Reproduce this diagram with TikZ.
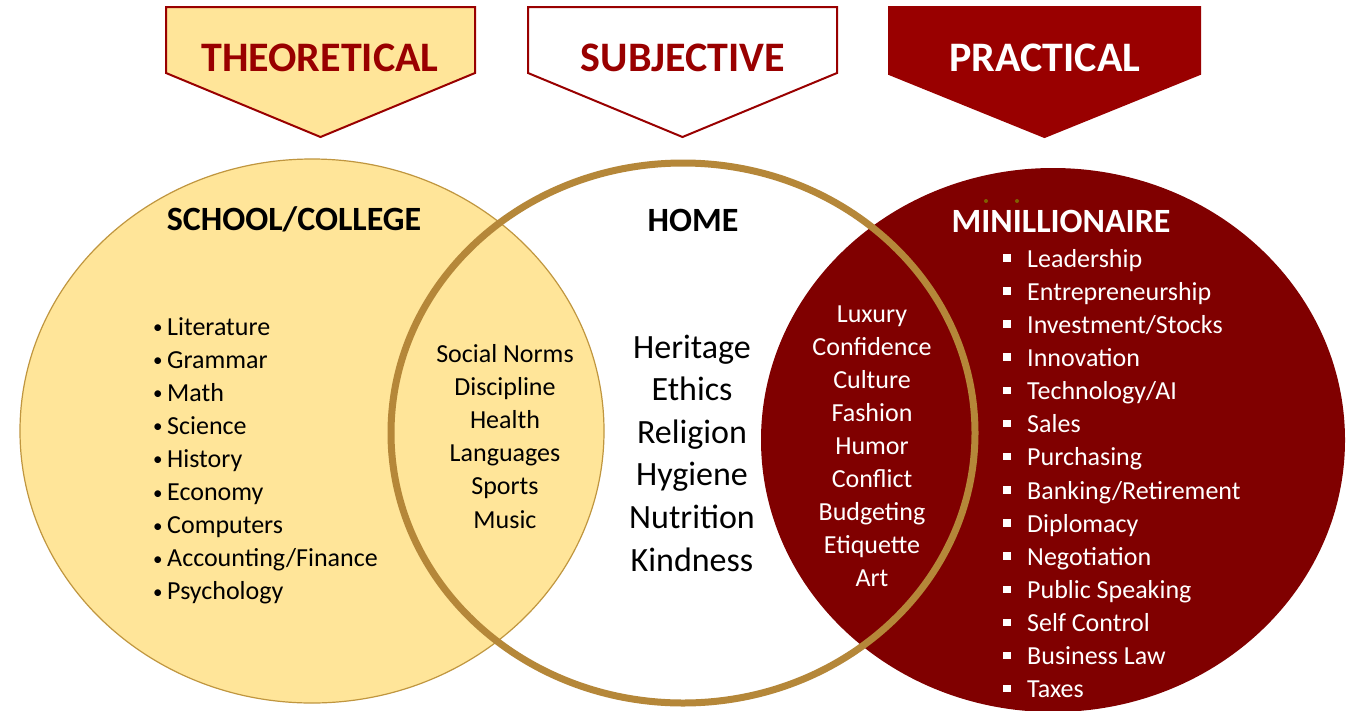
\documentclass[tikz,border=0pt]{standalone}
\usepackage{fontspec}
\setmainfont{Carlito}
\definecolor{lightyel}{HTML}{FFE599}
\definecolor{yelborder}{HTML}{C0963F}
\definecolor{maroonfill}{HTML}{800000}
\definecolor{bannerred}{HTML}{990000}
\definecolor{ringgold}{HTML}{B58739}
\definecolor{dotolive}{HTML}{7F6000}
\newcommand{\smallbul}{\makebox[16pt][l]{\hspace{2pt}{\fontsize{19}{20}\selectfont\raisebox{1.5pt}{•}}}}
\tikzset{
  bannershape/.style={line width=2pt, draw=bannerred, line join=miter},
  bannertext/.style={anchor=base, inner sep=0pt, font=\fontsize{42}{50}\selectfont\bfseries},
  titletext/.style={anchor=base, inner sep=0pt, font=\fontsize{34}{40}\selectfont\bfseries},
  listitem/.style={anchor=base west, inner sep=0pt, font=\fontsize{26}{30}\selectfont},
  centeritem/.style={anchor=base, inner sep=0pt, font=\fontsize{26}{30}\selectfont},
  homeitem/.style={anchor=base, inner sep=0pt, font=\fontsize{34}{40}\selectfont},
}
\begin{document}
\begin{tikzpicture}[x=1pt,y=-1pt]
\useasboundingbox (0,0) rectangle (1357,710);
\fill[white] (0,0) rectangle (1357,710);
\clip (0,0) rectangle (1357,710);

% banners
\path[bannershape, fill=lightyel] (166,7) -- (475,7) -- (475,73) -- (320.5,137) -- (166,73) -- cycle;
\path[bannershape, fill=white] (528,7) -- (837,7) -- (837,73) -- (682.5,137) -- (528,73) -- cycle;
\path[bannershape, fill=bannerred] (889,7) -- (1200,7) -- (1200,74) -- (1044.5,137) -- (889,74) -- cycle;
\node[bannertext, text=bannerred] (theo) at (320,71) {THEORETICAL};
\node[bannertext, text=bannerred] (subj) at (683,71) {SUBJECTIVE};
\node[bannertext, text=white] (prac) at (1045,71) {PRACTICAL};

% circles
\path[fill=lightyel, draw=yelborder, line width=1.2pt] (312,431) ellipse [x radius=292pt, y radius=272pt];
\path[fill=maroonfill] (1053,440) ellipse [x radius=292pt, y radius=272pt];
\path[draw=ringgold, line width=7pt] (683,433) ellipse [x radius=292pt, y radius=270pt];
\fill[dotolive] (986,201) circle (2pt);
\fill[dotolive] (1017,201) circle (2pt);

% titles
\node[titletext] (school) at (294,230) {SCHOOL/COLLEGE};
\node[titletext] (home) at (693,231) {HOME};
\node[titletext, text=white] (mini) at (1061,232) {MINILLIONAIRE};

% school list
\foreach \t [count=\i] in {Literature,Grammar,Math,Science,History,Economy,Computers,Accounting/Finance,Psychology}
  \node[listitem] (sch\i) at (151,{335+33.1*(\i-1)}) {\smallbul\t};

% school/home intersection
\foreach \t [count=\i] in {Social Norms,Discipline,Health,Languages,Sports,Music}
  \node[centeritem] (sh\i) at (505,{362+33.2*(\i-1)}) {\t};

% home
\foreach \t [count=\i] in {Heritage,Ethics,Religion,Hygiene,Nutrition,Kindness}
  \node[homeitem] (hm\i) at (692,{358+42.6*(\i-1)}) {\t};

% home/practical intersection
\foreach \t [count=\i] in {Luxury,Confidence,Culture,Fashion,Humor,Conflict,Budgeting,Etiquette,Art}
  \node[centeritem, text=white] (hp\i) at (872,{322+33.1*(\i-1)}) {\t};

% practical list
\foreach \t [count=\i] in {Leadership,Entrepreneurship,Investment/Stocks,Innovation,Technology/AI,Sales,Purchasing,Banking/Retirement,Diplomacy,Negotiation,Public Speaking,Self Control,Business Law,Taxes}
  \node[listitem, text=white] (pr\i) at (1003,{267+33.15*(\i-1)}) {\makebox[24pt][l]{\raisebox{5.5pt}{\rule{7.5pt}{7.5pt}}}\t};
\end{tikzpicture}
\end{document}
